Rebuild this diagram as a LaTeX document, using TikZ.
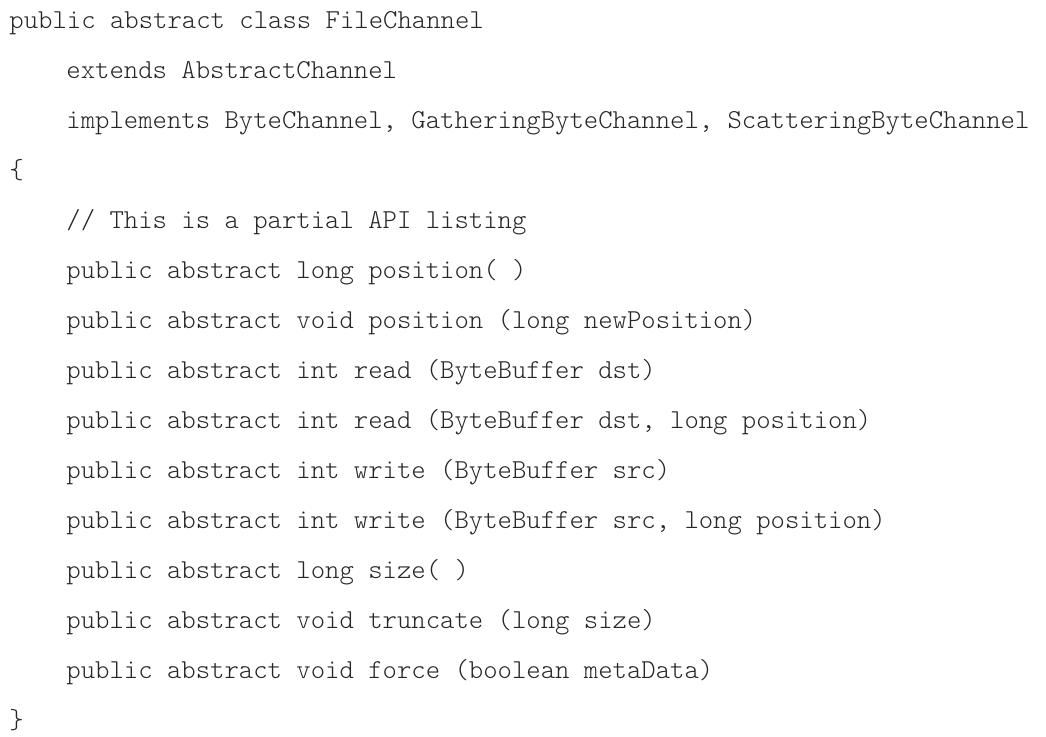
\documentclass[tikz,border=0pt]{standalone}
\usepackage{fontspec}
\setmonofont{Latin Modern Mono Light}
\usepackage{tikz}

\begin{document}
\begin{tikzpicture}[x=0.5pt,y=-0.5pt]
\tikzset{code/.style={anchor=base west,inner sep=0pt,font=\ttfamily\fontsize{13.69pt}{13.69pt}\selectfont,text=black!85}}
\useasboundingbox (0,0) rectangle (1046,736);
\node [code] (l1) at (9,28) {public abstract class FileChannel};
\node [code] (l2) at (66,78) {extends AbstractChannel};
\node [code] (l3) at (66,128) {implements ByteChannel, GatheringByteChannel, ScatteringByteChannel};
\node [code] (l4) at (9,178) {\{};
\node [code] (l5) at (66,228) {// This is a partial API listing};
\node [code] (l6) at (66,278) {public abstract long position( )};
\node [code] (l7) at (66,328) {public abstract void position (long newPosition)};
\node [code] (l8) at (66,378) {public abstract int read (ByteBuffer dst)};
\node [code] (l9) at (66,428) {public abstract int read (ByteBuffer dst, long position)};
\node [code] (l10) at (66,478) {public abstract int write (ByteBuffer src)};
\node [code] (l11) at (66,528) {public abstract int write (ByteBuffer src, long position)};
\node [code] (l12) at (66,578) {public abstract long size( )};
\node [code] (l13) at (66,628) {public abstract void truncate (long size)};
\node [code] (l14) at (66,678) {public abstract void force (boolean metaData)};
\node [code] (l15) at (9,728) {\}};
\end{tikzpicture}
\end{document}
